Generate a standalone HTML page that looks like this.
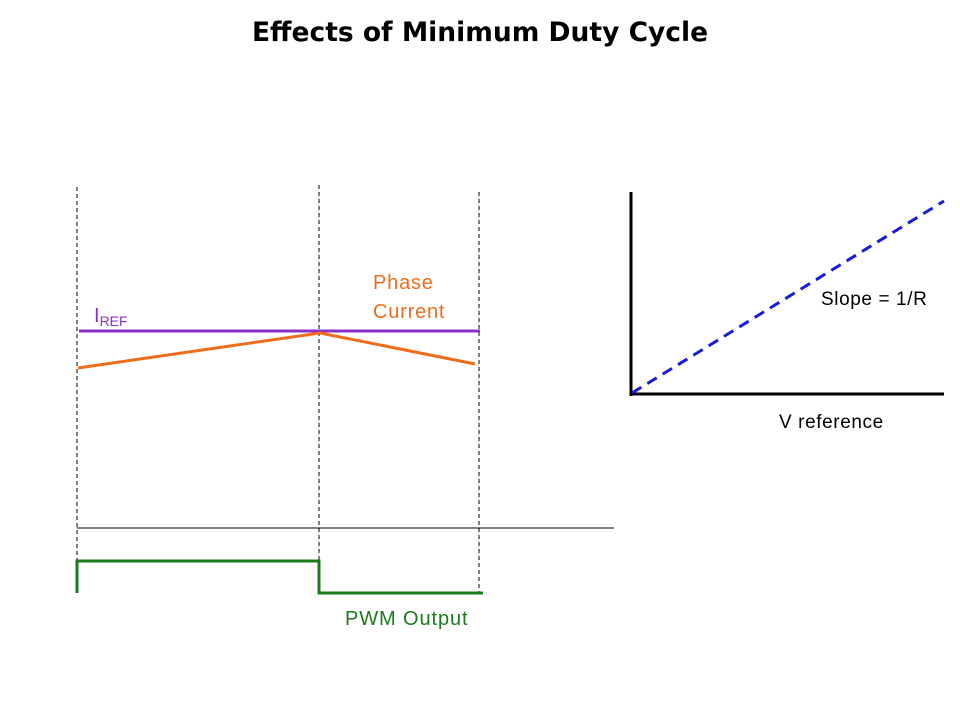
<!DOCTYPE html>
<html><head><style>
body{margin:0;background:#fff;width:960px;height:720px;overflow:hidden}
svg{display:block}
</style></head><body>
<svg width="960" height="720" xmlns="http://www.w3.org/2000/svg" font-family="Liberation Sans, DejaVu Sans, sans-serif">
<text x="480" y="41" text-anchor="middle" font-size="26.5" font-weight="bold" fill="#000" font-family="DejaVu Sans, sans-serif">Effects of Minimum Duty Cycle</text>
<g stroke="#000" stroke-width="1" stroke-dasharray="4,3">
<line x1="77" y1="187" x2="77" y2="592"/>
<line x1="319" y1="185" x2="319" y2="592"/>
<line x1="479" y1="192" x2="479" y2="592"/>
</g>
<line x1="77" y1="528" x2="614" y2="528" stroke="#000" stroke-width="1"/>
<line x1="79" y1="331" x2="480" y2="331" stroke="#8b2fc9" stroke-width="3"/>
<polyline points="78,368 320,333 475,364" fill="none" stroke="#ee6d1a" stroke-width="3"/>
<polyline points="77,593 77,561 319,561 319,593 483,593" fill="none" stroke="#1b7a1b" stroke-width="3"/>
<text x="94" y="322" font-size="20" fill="#8b2fc9">I<tspan font-size="14" dy="4">REF</tspan></text>
<text x="373" y="289" font-size="20" fill="#ee6d1a" letter-spacing="0.8">Phase</text>
<text x="373" y="318" font-size="20" fill="#ee6d1a" letter-spacing="0.8">Current</text>
<text x="345" y="625" font-size="20" fill="#1b7a1b" letter-spacing="0.9">PWM Output</text>
<line x1="631" y1="192" x2="631" y2="396" stroke="#000" stroke-width="3"/>
<line x1="630" y1="394" x2="944" y2="394" stroke="#000" stroke-width="3"/>
<line x1="632" y1="393" x2="944" y2="201" stroke="#1a1adf" stroke-width="3" stroke-dasharray="11,7"/>
<text x="821" y="305" font-size="19" fill="#000" letter-spacing="0.6">Slope = 1/R</text>
<text x="779" y="428" font-size="19" fill="#000" letter-spacing="0.6">V reference</text>
</svg>
</body></html>
